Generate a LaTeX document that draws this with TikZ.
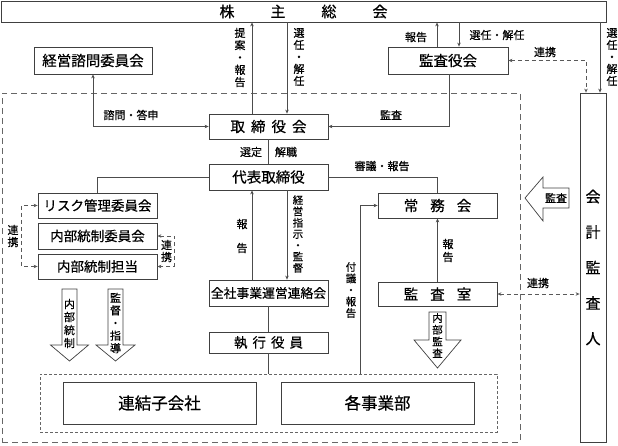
\documentclass[tikz,border=0pt]{standalone}
\usepackage{fontspec}
\setmainfont{Noto Sans CJK JP}[FakeBold=0.5]
\usetikzlibrary{arrows.meta}
\begin{document}
\begin{tikzpicture}[x=1pt,y=-1pt,
  box/.style={draw=black!75, line width=0.8pt, fill=white, inner sep=0pt, rectangle},
  ln/.style={draw=black!70, line width=0.8pt},
  arr/.style={ln, -{Stealth[length=4pt,width=3.5pt]}},
  barr/.style={ln, {Stealth[length=4pt,width=3.5pt]}-{Stealth[length=4pt,width=3.5pt]}},
  dln/.style={draw=black!65, line width=0.8pt, dash pattern=on 4pt off 3pt},
  darr/.style={dln, {Stealth[length=4pt,width=3.5pt]}-{Stealth[length=4pt,width=3.5pt]}},
  lab/.style={font=\fontsize{11}{12.3}\selectfont, inner sep=0pt},
  vlab/.style={lab, align=center},
  blk/.style={draw=black!75, line width=0.7pt, fill=white},
  fbig/.style={font=\fontsize{14.5}{16}\selectfont},
  fmid/.style={font=\fontsize{13.5}{15}\selectfont},
]
\useasboundingbox (0,0) rectangle (618,445);

% dashed frames
\node[draw=black!60, dash pattern=on 6pt off 4pt, line width=0.8pt, minimum width=518pt, minimum height=349pt, inner sep=0pt] (outer) at (261,267.5) {};
\node[draw=black!60, dash pattern=on 3pt off 2pt, line width=0.7pt, minimum width=457pt, minimum height=58pt, inner sep=0pt] (inner) at (268.5,403) {};

% boxes
\node[box, minimum width=605pt, minimum height=21pt, font=\fontsize{15}{16}\selectfont] (kabu) at (303.5,11.5) {株\hspace{36pt}主\hspace{36pt}総\hspace{36pt}会};
\node[box, fbig, minimum width=118pt, minimum height=27pt] (keiei) at (93,60.5) {経営諮問委員会};
\node[box, fbig, minimum width=120pt, minimum height=27pt] (kyaku) at (448,60.5) {監査役会};
\node[box, fbig, minimum width=119pt, minimum height=25pt] (tk) at (268.5,126.5) {取\hspace{6pt}締\hspace{6pt}役\hspace{6pt}会};
\node[box, fbig, minimum width=119pt, minimum height=26pt] (daihyo) at (268.5,177) {代表取締役};
\node[box, fmid, minimum width=119pt, minimum height=25pt] (risk) at (97.5,205.5) {リスク管理委員会};
\node[box, fmid, minimum width=119pt, minimum height=26pt] (niin) at (97.5,236) {内部統制委員会};
\node[box, fmid, minimum width=119pt, minimum height=25pt] (ntanto) at (97.5,266.5) {内部統制担当};
\node[box, font=\fontsize{12.8}{14}\selectfont, minimum width=119pt, minimum height=26pt] (zensha) at (268.5,293) {全社事業運営連絡会};
\node[box, fmid, minimum width=119pt, minimum height=21pt] (shikko) at (268.5,342.5) {執\hspace{5pt}行\hspace{5pt}役\hspace{5pt}員};
\node[box, font=\fontsize{16.5}{18}\selectfont, minimum width=193pt, minimum height=42pt] (renketsu) at (159.5,403) {連結子会社};
\node[box, font=\fontsize{16.5}{18}\selectfont, minimum width=193pt, minimum height=42pt] (jigyo) at (377.5,403) {各事業部};
\node[box, fbig, minimum width=119pt, minimum height=25pt] (jomu) at (437.5,205.5) {常\hspace{12pt}務\hspace{12pt}会};
\node[box, fbig, minimum width=119pt, minimum height=24pt] (kshitsu) at (437.5,294) {監\hspace{12pt}査\hspace{12pt}室};
\node[box, align=center, font=\fontsize{15}{35.5}\selectfont, minimum width=26pt, minimum height=349pt] (kaikei) at (593,267.5) {会\\計\\監\\査\\人};

% connectors
\draw[arr] ([xshift=-16.5pt]tk.north) -- ([xshift=-16.5pt]tk.north |- kabu.south);
\draw[arr] ([xshift=18.5pt]tk.north |- kabu.south) -- ([xshift=18.5pt]tk.north);
\draw[arr] ([xshift=-11pt]kyaku.north) -- ([xshift=-11pt]kyaku.north |- kabu.south);
\draw[arr] ([xshift=11pt]kyaku.north |- kabu.south) -- ([xshift=11pt]kyaku.north);
\draw[arr] ([xshift=7pt]kaikei.north |- kabu.south) -- ([xshift=7pt]kaikei.north);
\draw[darr] (kyaku.east) -| ([xshift=-7pt]kaikei.north);
\draw[barr] (keiei.south) |- (tk.west);
\draw[arr] ([xshift=1pt]kyaku.south) |- (tk.east);
\draw[ln] (tk.south) -- (daihyo.north);
\draw[ln] (daihyo.west) -| (risk.north);
\draw[ln] (daihyo.east) -| (jomu.north);
\draw[arr] ([xshift=-16.5pt]zensha.north) -- ([xshift=-16.5pt]zensha.north |- daihyo.south);
\draw[arr] ([xshift=18.5pt]daihyo.south) -- ([xshift=18.5pt]daihyo.south |- zensha.north);
\draw[ln] (zensha.south) -- (shikko.north);
\draw[ln] (shikko.south) -- (shikko.south |- inner.north);
\draw[arr] ([xshift=-17pt]jomu.west |- inner.north) |- (jomu.west);
\draw[arr] (kshitsu.north) -- (jomu.south);
\draw[darr] (kshitsu.east) -- (kshitsu.east -| kaikei.west);
\draw[darr] (risk.west) -- ++(-16,0) |- (ntanto.west);
\draw[darr] (niin.east) -- ++(17,0) |- (ntanto.east);

% labels
\node[vlab] at (240,57.5) {提\\案\\・\\報\\告};
\node[vlab, font=\fontsize{11}{12}\selectfont] at (299,57) {選\\任\\・\\解\\任};
\node[lab] at (416,37) {報告};
\node[lab] at (497,35) {選任・解任};
\node[lab] at (545,52) {連携};
\node[vlab, font=\fontsize{11}{12}\selectfont] at (612,57) {選\\任\\・\\解\\任};
\node[lab] at (131,115) {諮問・答申};
\node[lab] at (391,115) {監査};
\node[lab] at (251,152) {選定};
\node[lab] at (286,152) {解職};
\node[lab] at (382,166) {審議・報告};
\node[vlab, font=\fontsize{11}{24}\selectfont] at (242,236) {報\\告};
\node[vlab, font=\fontsize{10.5}{11.3}\selectfont] at (298,234) {経\\営\\指\\示\\・\\監\\督};
\node[vlab, font=\fontsize{10.5}{11.5}\selectfont] at (351,290) {付\\議\\・\\報\\告};
\node[vlab, font=\fontsize{11}{13}\selectfont] at (448,250.5) {報\\告};
\node[lab] at (538,283) {連携};
\node[vlab, font=\fontsize{11}{12}\selectfont] at (13,236) {連\\携};
\node[vlab, font=\fontsize{11}{12}\selectfont] at (166.5,251) {連\\携};

% block arrows
\draw[blk] (62,289) -- (77,289) -- (77,345) -- (88.5,345) -- (69.5,361) -- (50.5,345) -- (62,345) -- cycle;
\node[vlab, font=\fontsize{11}{13}\selectfont] at (69.5,323.5) {内\\部\\統\\制};
\draw[blk] (108,289) -- (123,289) -- (123,345) -- (135,345) -- (115.5,361) -- (96,345) -- (108,345) -- cycle;
\node[vlab, font=\fontsize{11}{12.6}\selectfont] at (115.5,323) {監\\督\\・\\指\\導};
\draw[blk] (429,312) -- (446,312) -- (446,340) -- (461,340) -- (437.5,368) -- (414,340) -- (429,340) -- cycle;
\node[vlab, font=\fontsize{10.5}{11.7}\selectfont] at (437.5,335.5) {内\\部\\監\\査};
\draw[blk] (569,188) -- (569,208) -- (543,208) -- (543,221) -- (525,198) -- (543,177) -- (543,188) -- cycle;
\node[lab] at (556,198) {監査};
\end{tikzpicture}
\end{document}
